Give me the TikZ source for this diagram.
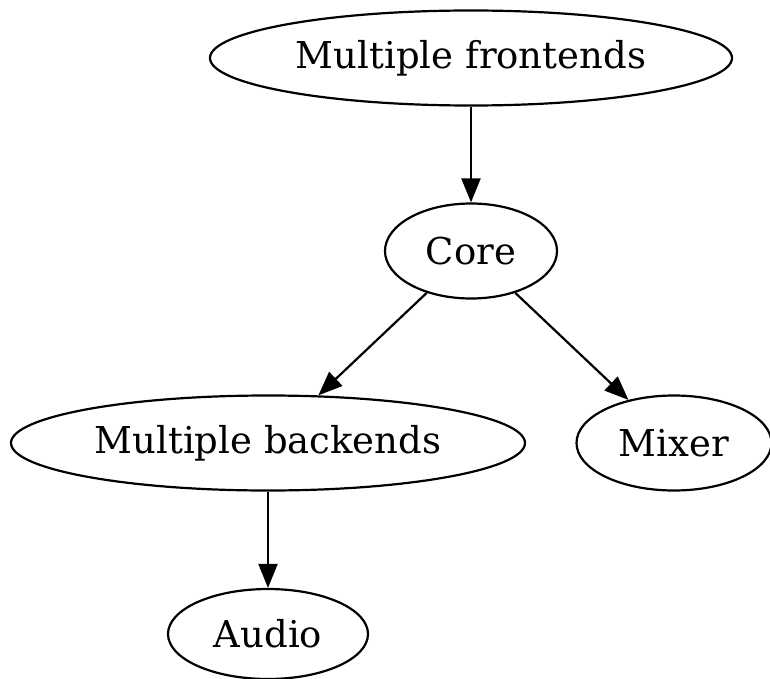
\documentclass[tikz,border=0pt]{standalone}
\usepackage{fontspec}
\setmainfont{DejaVu Serif}
\usetikzlibrary{arrows.meta,shapes.geometric}
\begin{document}
\begin{tikzpicture}[x=1pt, y=-1pt, line width=2.2pt,
    n/.style={ellipse, draw, inner sep=0pt, minimum height=95pt, font=\fontsize{37}{44}\selectfont},
    every edge/.style={draw, -{Triangle[length=24pt, width=19pt]}}]
            \useasboundingbox (0,0) rectangle (770,679);
            \node[n, minimum width=522pt] (front) at (471, 58) {Multiple frontends};
            \node[n, minimum width=172pt] (core) at (471, 251) {Core};
            \node[n, minimum width=514pt] (back) at (268, 443) {Multiple backends};
            \node[n, minimum width=195pt] (mixer) at (674, 443) {Mixer};
            \node[n, minimum width=200pt, minimum height=90pt] (audio) at (268, 634) {Audio};

            \draw (front) edge (core);
            \draw (core) edge (back);
            \draw (core) edge (mixer);
            \draw (back) edge (audio);
        \end{tikzpicture}
\end{document}
